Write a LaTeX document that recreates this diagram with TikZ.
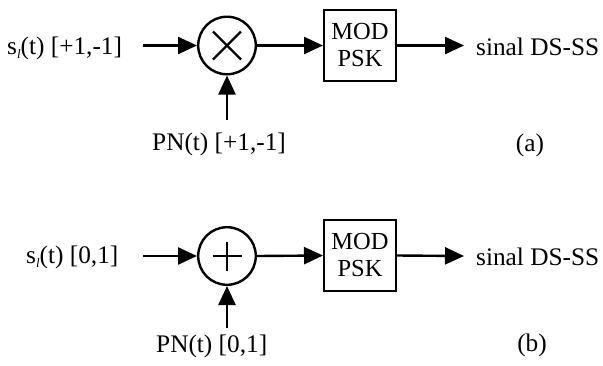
\documentclass[tikz,border=0pt]{standalone}
\usepackage{fontspec}
\setmainfont{Liberation Serif}
\usetikzlibrary{arrows.meta}
\newcommand{\subl}{\raisebox{-4pt}{\fontsize{13}{13}\selectfont\textit{l}}}
\begin{document}
\begin{tikzpicture}[x=1pt,y=-1pt,
  every node/.style={font=\fontsize{25.3}{27}\selectfont},
  thick line/.style={line width=2.4pt},
  conn/.style={line width=2.4pt,-{Triangle[length=19pt,width=17pt]}},
  oper/.style={circle,draw,line width=2.4pt,minimum size=57.6pt,inner sep=0pt},
  modbox/.style={rectangle,draw,line width=2.4pt,minimum width=71.6pt,minimum height=70.6pt,inner sep=0pt,align=center},
  lbl/.style={inner sep=0pt,anchor=base west}]
\useasboundingbox (0,0) rectangle (603,365);
% (a)
\node[oper] (m1) at (227,45.5) {};
\draw[thick line] (m1.center) ++(-14,-14) -- ++(28,28);
\draw[thick line] (m1.center) ++(-14,14) -- ++(28,-28);
\node[modbox,font=\fontsize{24.5}{27}\selectfont] (box1) at (360,45.5) {MOD\\PSK};
\node[lbl] (in1) at (7,54) {s\subl(t) [+1,-1]};
\coordinate (a1) at (143,45.5);
\draw[conn] (a1) -- (m1.west);
\node[lbl] (pn1) at (152,150) {PN(t) [+1,-1]};
\coordinate (p1) at (227,120);
\draw[conn] (p1) -- (m1.south);
\draw[conn] (m1.east) -- (box1.west);
\coordinate (o1) at (464,45.5);
\draw[conn] (box1.east) -- (o1);
\node[lbl] (out1) at (476,55) {sinal DS-SS};
\node[inner sep=0pt] (la) at (530,145) {(a)};
% (b)
\node[oper] (m2) at (227,256) {};
\draw[thick line] (m2.center) ++(-14.5,0) -- ++(29,0);
\draw[thick line] (m2.center) ++(0,-14.5) -- ++(0,29);
\node[modbox,font=\fontsize{24.5}{27}\selectfont] (box2) at (360,255.5) {MOD\\PSK};
\node[lbl] (in2) at (26,263) {s\subl(t) [0,1]};
\coordinate (a2) at (143,256);
\draw[conn] (a2) -- (m2.west);
\node[lbl] (pn2) at (156,352) {PN(t) [0,1]};
\coordinate (p2) at (227,328);
\draw[conn] (p2) -- (m2.south);
\draw[conn] (m2.east) -- (box2.west);
\coordinate (o2) at (464,256);
\draw[conn] (box2.east) -- (o2);
\node[lbl] (out2) at (476,265) {sinal DS-SS};
\node[inner sep=0pt] (lb) at (532,345) {(b)};
\end{tikzpicture}
\end{document}
